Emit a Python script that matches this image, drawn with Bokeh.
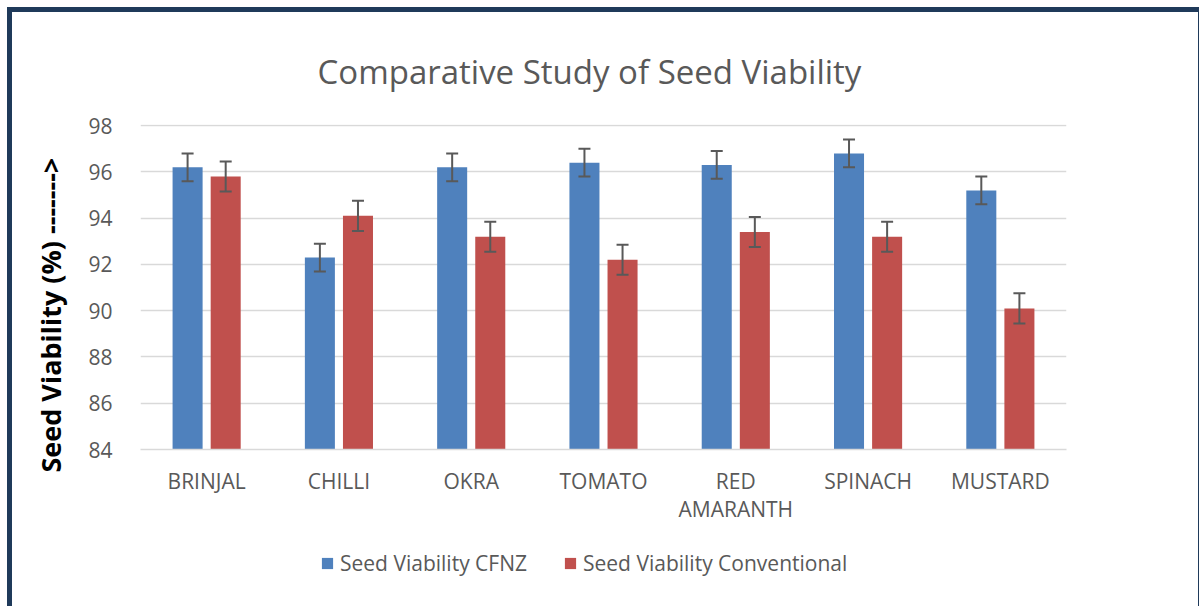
from bokeh.plotting import figure
from bokeh.layouts import column
from bokeh.models import (FactorRange, Range1d, ColumnDataSource, Whisker, TeeHead,
                          Legend, LegendItem, Title, FixedTicker)
from bokeh.transform import dodge
from bokeh.embed import file_html
from bokeh.resources import INLINE

categories = ["BRINJAL", "CHILLI", "OKRA", "TOMATO", "RED AMARANTH", "SPINACH", "MUSTARD"]
cfnz = [96.2, 92.3, 96.2, 96.4, 96.3, 96.8, 95.2]
conventional = [95.8, 94.1, 93.2, 92.2, 93.4, 93.2, 90.1]
cfnz_err = [0.6, 0.6, 0.6, 0.6, 0.6, 0.6, 0.6]
conventional_err = [0.65, 0.65, 0.65, 0.65, 0.65, 0.65, 0.65]
y_ticks = [84, 86, 88, 90, 92, 94, 96, 98]
series_names = ["Seed Viability CFNZ", "Seed Viability Conventional"]
title_text = "Comparative Study of Seed Viability"
y_label_text = "Seed Viability (%) ------->"

BLUE = "#4F81BD"
RED = "#C0504D"
GREY = "#595959"
FONT = "Open Sans"

# multi-line factor labels (word-wrapped like the original)
factors = [c.replace(" ", "\n") for c in categories]

src = ColumnDataSource(dict(
    cat=factors,
    a=cfnz, b=conventional,
    a_hi=[v + e for v, e in zip(cfnz, cfnz_err)],
    a_lo=[v - e for v, e in zip(cfnz, cfnz_err)],
    b_hi=[v + e for v, e in zip(conventional, conventional_err)],
    b_lo=[v - e for v, e in zip(conventional, conventional_err)],
))

p = figure(width=1186, height=518, output_backend="svg", toolbar_location=None,
           x_range=FactorRange(*factors, range_padding=0),
           y_range=Range1d(y_ticks[0], y_ticks[-1] + 0.05),
           min_border_left=128, min_border_right=132, min_border_top=112, min_border_bottom=81)
p.outline_line_color = None
p.background_fill_color = "white"
p.border_fill_color = "white"

off = 0.144
w = 0.227
p.vbar(x=dodge("cat", -off, range=p.x_range), top="a", bottom=y_ticks[0], width=w,
       source=src, fill_color=BLUE, line_color=None)
p.vbar(x=dodge("cat", off, range=p.x_range), top="b", bottom=y_ticks[0], width=w,
       source=src, fill_color=RED, line_color=None)

for base_off, hi, lo in [(-off, "a_hi", "a_lo"), (off, "b_hi", "b_lo")]:
    wk = Whisker(source=src, base=dodge("cat", base_off, range=p.x_range), upper=hi, lower=lo,
                 line_color=GREY, line_width=2, level="overlay",
                 upper_head=TeeHead(size=12, line_color=GREY, line_width=2),
                 lower_head=TeeHead(size=12, line_color=GREY, line_width=2))
    p.add_layout(wk)

p.xgrid.grid_line_color = None
p.ygrid.grid_line_color = "#D9D9D9"
p.ygrid.grid_line_width = 1.5
p.yaxis.ticker = FixedTicker(ticks=y_ticks)
p.yaxis.axis_line_color = None
p.yaxis.major_tick_line_color = None
p.yaxis.minor_tick_line_color = None
p.yaxis.major_label_standoff = 22
p.yaxis.major_label_text_font = FONT
p.yaxis.major_label_text_font_size = "21px"
p.yaxis.major_label_text_color = GREY

p.xaxis.axis_line_color = "#D9D9D9"
p.xaxis.axis_line_width = 1.5
p.xaxis.major_tick_line_color = None
p.xaxis.minor_tick_line_color = None
p.xaxis.major_label_standoff = 11
p.xaxis.major_label_text_font = FONT
p.xaxis.major_label_text_font_size = "21px"
p.xaxis.major_label_text_color = GREY
p.xaxis.major_label_text_line_height = 1.0

title = Title(text=title_text, text_font=FONT, text_font_size="33px", text_font_style="normal",
              text_color=GREY, align="left", offset=177, standoff=62)
p.add_layout(title, "above")
ylab = Title(text=y_label_text, text_font=FONT, text_font_size="27px", text_font_style="bold",
             text_color="black", align="left", offset=-23, standoff=34)
p.add_layout(ylab, "left")

# legend strip below the chart (same series colours)
leg = figure(width=1186, height=76, output_backend="svg", toolbar_location=None,
             x_range=Range1d(0, 1), y_range=Range1d(0, 1),
             min_border=0, outline_line_color=None)
leg.axis.visible = False
leg.grid.visible = False
lr1 = leg.vbar(x=[-5], top=[0], width=0.1, fill_color=BLUE, line_color=None)
lr2 = leg.vbar(x=[-5], top=[0], width=0.1, fill_color=RED, line_color=None)
legend = Legend(items=[LegendItem(label=series_names[0], renderers=[lr1]),
                       LegendItem(label=series_names[1], renderers=[lr2])],
                orientation="horizontal", location=(180, 29),
                label_text_font=FONT, label_text_font_size="21px", label_text_color=GREY,
                glyph_width=14, glyph_height=14, label_standoff=6, spacing=36,
                border_line_color=None, background_fill_alpha=0, margin=0, padding=4)
leg.add_layout(legend, "center")

layout = column(p, leg, spacing=0,
                styles={"border": "5px solid #1F3A5A", "border-bottom": "none",
                        "margin": "7px 0 0 7px"})

open("out.html", "w").write(file_html(layout, INLINE))
